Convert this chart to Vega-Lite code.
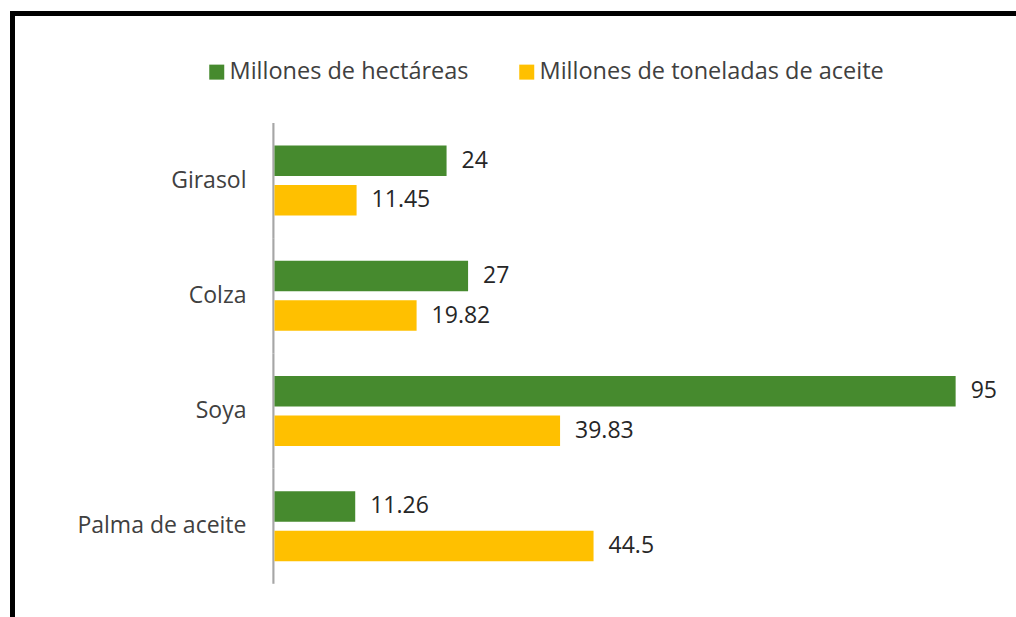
{
  "$schema": "https://vega.github.io/schema/vega-lite/v6.json",
  "width": 1004,
  "height": 604,
  "autosize": {"type": "none"},
  "padding": {"left": 12, "top": 13, "right": 0, "bottom": 0},
  "background": "white",
  "config": {
    "font": "Open Sans",
    "view": {"stroke": null}
  },
  "datasets": {
    "valores": [
      {"cultivo": "Girasol", "serie": "Millones de hectáreas", "valor": 24},
      {"cultivo": "Girasol", "serie": "Millones de toneladas de aceite", "valor": 11.45},
      {"cultivo": "Colza", "serie": "Millones de hectáreas", "valor": 27},
      {"cultivo": "Colza", "serie": "Millones de toneladas de aceite", "valor": 19.82},
      {"cultivo": "Soya", "serie": "Millones de hectáreas", "valor": 95},
      {"cultivo": "Soya", "serie": "Millones de toneladas de aceite", "valor": 39.83},
      {"cultivo": "Palma de aceite", "serie": "Millones de hectáreas", "valor": 11.26},
      {"cultivo": "Palma de aceite", "serie": "Millones de toneladas de aceite", "valor": 44.5}
    ],
    "cultivos": [
      {"cultivo": "Girasol"},
      {"cultivo": "Colza"},
      {"cultivo": "Soya"},
      {"cultivo": "Palma de aceite"}
    ]
  },
  "encoding": {
    "y": {
      "field": "cultivo",
      "type": "nominal",
      "sort": ["Girasol", "Colza", "Soya", "Palma de aceite"],
      "scale": {"paddingInner": 0, "paddingOuter": 0.6215, "align": 0.768},
      "axis": {
        "title": null,
        "orient": "left",
        "domain": true,
        "domainColor": "#000000",
        "domainWidth": 5,
        "domainCap": "square",
        "ticks": false,
        "tickSize": 0,
        "grid": false,
        "labelPadding": -234,
        "labelAlign": "right",
        "labelBaseline": "middle",
        "labelFontSize": 23,
        "labelColor": "#404040",
        "labelFont": "Open Sans"
      }
    }
  },
  "layer": [
    {
      "data": {"name": "cultivos"},
      "mark": {"type": "bar", "color": "#A6A6A6"},
      "encoding": {
        "x": {"datum": -0.3, "type": "quantitative"},
        "x2": {"datum": 0}
      }
    },
    {
      "data": {"name": "valores"},
      "mark": {"type": "bar"},
      "encoding": {
        "x": {
          "field": "valor",
          "type": "quantitative",
          "scale": {"domain": [-36.61, 103.42], "nice": false, "zero": false},
          "axis": {
            "orient": "top",
            "title": null,
            "labels": false,
            "ticks": false,
            "grid": false,
            "domain": true,
            "domainColor": "#000000",
            "domainWidth": 5,
            "domainCap": "square"
          }
        },
        "x2": {"datum": 0},
        "yOffset": {
          "field": "serie",
          "type": "nominal",
          "sort": ["Millones de hectáreas", "Millones de toneladas de aceite"],
          "scale": {"paddingInner": 0.228, "paddingOuter": 0.572}
        },
        "color": {
          "field": "serie",
          "type": "nominal",
          "scale": {
            "domain": ["Millones de hectáreas", "Millones de toneladas de aceite"],
            "range": ["#468A2E", "#FFC000"]
          },
          "legend": {
            "title": null,
            "orient": "none",
            "direction": "horizontal",
            "legendX": 193,
            "legendY": 47,
            "padding": 0,
            "symbolType": "square",
            "symbolSize": 225,
            "symbolStrokeWidth": 0,
            "labelFontSize": 23.5,
            "labelLimit": 0,
            "labelColor": "#404040",
            "labelFont": "Open Sans",
            "labelOffset": 1,
            "columnPadding": 46
          }
        }
      }
    },
    {
      "data": {"name": "valores"},
      "mark": {"type": "text", "align": "left", "baseline": "middle", "dx": 15, "fontSize": 23, "color": "#262626"},
      "encoding": {
        "x": {"field": "valor", "type": "quantitative"},
        "yOffset": {
          "field": "serie",
          "type": "nominal",
          "sort": ["Millones de hectáreas", "Millones de toneladas de aceite"]
        },
        "text": {"field": "valor", "type": "quantitative", "format": "~g"}
      }
    }
  ]
}
